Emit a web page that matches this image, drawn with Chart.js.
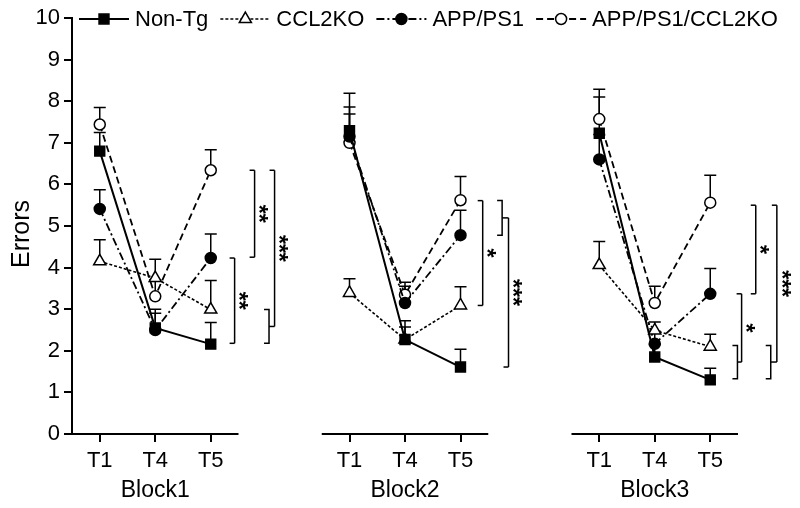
<!DOCTYPE html>
<html><head><meta charset="utf-8">
<script src="https://cdn.jsdelivr.net/npm/chart.js@4.4.0/dist/chart.umd.min.js"></script>
<style>html,body{margin:0;padding:0;background:#fff;}#wrap{width:800px;height:508px;position:relative;}</style>
</head><body><div id="wrap"><canvas id="c" width="800" height="508"></canvas></div>
<script>
// ---------- data ----------
const blocks = ['Block1', 'Block2', 'Block3'];
const trials = ['T1', 'T4', 'T5'];
const yTicks = [0, 1, 2, 3, 4, 5, 6, 7, 8, 9, 10];
const yTitle = 'Errors';
const seriesNames = ['Non-Tg', 'CCL2KO', 'APP/PS1', 'APP/PS1/CCL2KO'];
// means, ordered Block1 T1,T4,T5, Block2 T1,T4,T5, Block3 T1,T4,T5
const nonTgMean   = [6.80, 2.55, 2.16, 7.29, 2.27, 1.61, 7.23, 1.85, 1.30];
const ccl2koMean  = [4.15, 3.75, 2.99, 3.39, 2.27, 3.09, 4.06, 2.49, 2.10];
const appps1Mean  = [5.41, 2.50, 4.23, 7.15, 3.15, 4.78, 6.60, 2.17, 3.37];
const appCclMean  = [7.44, 3.31, 6.34, 7.00, 3.35, 5.62, 7.57, 3.15, 5.56];
// standard errors (upper bars)
const nonTgSem    = [0.45, 0.45, 0.52, 0.90, 0.45, 0.43, 0.87, 0.30, 0.28];
const ccl2koSem   = [0.52, 0.45, 0.70, 0.34, 0.30, 0.45, 0.57, 0.20, 0.30];
const appps1Sem   = [0.46, 0.40, 0.58, 0.71, 0.40, 0.60, 0.60, 0.30, 0.61];
const appCclSem   = [0.41, 0.40, 0.49, 0.69, 0.30, 0.57, 0.72, 0.40, 0.66];
// significance brackets: end = value or sub-bracket {hi, lo}
const sigBlock  = [0, 0, 0, 1, 1, 2, 2, 2];
const sigLabel  = ['**', '**', '***', '*', '***', '*', '*', '***'];
const sigTop    = [6.34, 4.23, 6.34, 5.61, {hi: 5.61, lo: 4.78}, 5.50, 3.37, 5.50];
const sigBottom = [4.25, 2.18, {hi: 2.99, lo: 2.18}, 3.09, 1.61, 3.37, {hi: 2.13, lo: 1.33}, {hi: 2.13, lo: 1.33}];

// ---------- layout / style (not data) ----------
const BLOCK_STEP = 4.5;
const sigX    = [0.79, 0.43, 1.15, 0.40, 0.865, 0.82, 0.565, 1.20];
const sigSubX = [null, null, 1.05, null, 0.75, null, 0.49, 1.09];
const FONT = "'Liberation Sans', Arial, Helvetica, sans-serif";

function pts(mean) {
  const out = [];
  for (let b = 0; b < blocks.length; b++) {
    for (let t = 0; t < trials.length; t++) out.push({x: b * BLOCK_STEP + t, y: mean[b * trials.length + t]});
    out.push({x: b * BLOCK_STEP + 2.5, y: null});
  }
  return out;
}
const means = [nonTgMean, ccl2koMean, appps1Mean, appCclMean];
const sems = [nonTgSem, ccl2koSem, appps1Sem, appCclSem];
const styles = [
  {dash: [], width: 2, point: 'rect', radius: 7, fill: '#000'},
  {dash: [3, 2], width: 1.6, point: 'triangle', radius: 7, fill: '#fff'},
  {dash: [8, 3, 2, 3], width: 1.8, point: 'circle', radius: 5.5, fill: '#000'},
  {dash: [7, 4], width: 1.8, point: 'circle', radius: 5.5, fill: '#fff'}
];

const datasets = seriesNames.map((name, i) => ({
  label: name,
  data: pts(means[i]),
  borderColor: '#000',
  borderWidth: styles[i].width,
  borderDash: styles[i].dash,
  backgroundColor: styles[i].fill,
  pointStyle: styles[i].point,
  pointRadius: styles[i].radius,
  pointBorderWidth: 1.5,
  pointBorderColor: '#000',
  pointBackgroundColor: styles[i].fill,
  tension: 0,
  spanGaps: false
}));

const tickPositions = [];
for (let b = 0; b < blocks.length; b++) for (let t = 0; t < trials.length; t++) tickPositions.push(b * BLOCK_STEP + t);

function drawMarker(ctx, style, x, y) {
  ctx.save();
  ctx.setLineDash([]);
  ctx.lineWidth = 1.5;
  ctx.strokeStyle = '#000';
  ctx.fillStyle = style.fill;
  ctx.beginPath();
  const r = style.radius;
  if (style.point === 'rect') {
    const s = r * Math.SQRT1_2;
    ctx.rect(x - s, y - s, 2 * s, 2 * s);
  } else if (style.point === 'triangle') {
    let a = 0;
    ctx.moveTo(x + Math.sin(a) * r, y - Math.cos(a) * r);
    a += 2 * Math.PI / 3;
    ctx.lineTo(x + Math.sin(a) * r, y - Math.cos(a) * r);
    a += 2 * Math.PI / 3;
    ctx.lineTo(x + Math.sin(a) * r, y - Math.cos(a) * r);
    ctx.closePath();
  } else {
    ctx.arc(x, y, r, 0, Math.PI * 2);
  }
  ctx.fill();
  ctx.stroke();
  ctx.restore();
}

const extras = {
  id: 'extras',
  beforeDatasetsDraw(chart) {
    const ctx = chart.ctx, xs = chart.scales.x, ys = chart.scales.y;
    ctx.save();
    ctx.strokeStyle = '#000';
    ctx.lineWidth = 1.5;
    ctx.setLineDash([]);
    means.forEach((m, i) => {
      m.forEach((v, k) => {
        const b = Math.floor(k / trials.length), t = k % trials.length;
        const x = xs.getPixelForValue(b * BLOCK_STEP + t);
        const y0 = ys.getPixelForValue(v), y1 = ys.getPixelForValue(v + sems[i][k]);
        ctx.beginPath();
        ctx.moveTo(x, y0); ctx.lineTo(x, y1);
        ctx.moveTo(x - 6, y1); ctx.lineTo(x + 6, y1);
        ctx.stroke();
      });
    });
    ctx.restore();
  },
  afterDraw(chart) {
    const ctx = chart.ctx, xs = chart.scales.x, ys = chart.scales.y;
    const base = chart.chartArea.bottom;
    ctx.save();
    ctx.strokeStyle = '#000';
    ctx.fillStyle = '#000';
    ctx.setLineDash([]);
    // y title
    ctx.save();
    ctx.translate(22, 234);
    ctx.rotate(-Math.PI / 2);
    ctx.font = '25px ' + FONT;
    ctx.textAlign = 'center'; ctx.textBaseline = 'middle';
    ctx.fillText(yTitle, 0, 0);
    ctx.restore();
    // x axis segments and block titles
    ctx.lineWidth = 2;
    blocks.forEach((name, b) => {
      const x0 = xs.getPixelForValue(b * BLOCK_STEP - 0.5), x1 = xs.getPixelForValue(b * BLOCK_STEP + 2.5);
      ctx.beginPath(); ctx.moveTo(x0, base); ctx.lineTo(x1, base); ctx.stroke();
      ctx.font = '23px ' + FONT;
      ctx.textAlign = 'center'; ctx.textBaseline = 'middle';
      ctx.fillText(name, xs.getPixelForValue(b * BLOCK_STEP + 1), 491);
    });
    // significance brackets
    ctx.lineWidth = 1.5;
    const arm = 5;
    sigLabel.forEach((lab, i) => {
      const b = sigBlock[i];
      const xv = xs.getPixelForValue(b * BLOCK_STEP + 2 + sigX[i]);
      const ends = [sigTop[i], sigBottom[i]].map(e => {
        if (typeof e === 'number') {
          const y = ys.getPixelForValue(e);
          ctx.beginPath(); ctx.moveTo(xv - arm, y); ctx.lineTo(xv, y); ctx.stroke();
          return y;
        }
        const sx = xs.getPixelForValue(b * BLOCK_STEP + 2 + sigSubX[i]);
        const yh = ys.getPixelForValue(e.hi), yl = ys.getPixelForValue(e.lo);
        ctx.beginPath();
        ctx.moveTo(sx - arm, yh); ctx.lineTo(sx, yh); ctx.lineTo(sx, yl); ctx.lineTo(sx - arm, yl);
        ctx.stroke();
        const ym = (yh + yl) / 2;
        ctx.beginPath(); ctx.moveTo(sx, ym); ctx.lineTo(xv, ym); ctx.stroke();
        return ym;
      });
      ctx.beginPath(); ctx.moveTo(xv, ends[0]); ctx.lineTo(xv, ends[1]); ctx.stroke();
      ctx.save();
      ctx.translate(xv + 3, (ends[0] + ends[1]) / 2);
      ctx.rotate(Math.PI / 2);
      ctx.font = 'bold 23px ' + FONT;
      ctx.textAlign = 'center'; ctx.textBaseline = 'middle';
      ctx.fillText(lab, 0, 0);
      ctx.restore();
    });
    // legend (sequential layout)
    const ly = 19;
    let lx = 79;
    ctx.font = '22px ' + FONT;
    seriesNames.forEach((name, i) => {
      const a = lx, c = lx + 50;
      ctx.save();
      ctx.lineWidth = styles[i].width;
      ctx.setLineDash(styles[i].dash);
      ctx.beginPath(); ctx.moveTo(a, ly); ctx.lineTo(c, ly); ctx.stroke();
      ctx.restore();
      drawMarker(ctx, styles[i], (a + c) / 2, ly);
      ctx.font = '22px ' + FONT;
      ctx.textAlign = 'left'; ctx.textBaseline = 'middle';
      ctx.fillText(name, c + 6, ly + 1);
      lx = c + 6 + ctx.measureText(name).width + 12;
    });
    ctx.restore();
  }
};

Chart.defaults.color = '#000';
Chart.defaults.font.family = FONT;

new Chart(document.getElementById('c'), {
  type: 'line',
  data: {datasets},
  options: {
    responsive: false,
    devicePixelRatio: 1,
    animation: false,
    layout: {padding: {top: 18, right: 62, bottom: 0, left: 0}},
    plugins: {legend: {display: false}, tooltip: {enabled: false}},
    scales: {
      x: {
        type: 'linear', min: -0.5, max: 11.5,
        afterBuildTicks: s => { s.ticks = tickPositions.map(v => ({value: v})); },
        afterFit: s => { s.height = 74; },
        ticks: {autoSkip: false, maxRotation: 0, padding: 6, font: {size: 22},
          callback: (v, idx) => trials[idx % trials.length]},
        grid: {drawOnChartArea: false, drawTicks: true, tickLength: 8, color: '#000', lineWidth: 2},
        border: {display: false}
      },
      y: {
        type: 'linear', min: 0, max: 10,
        afterBuildTicks: s => { s.ticks = yTicks.map(v => ({value: v})); },
        afterFit: s => { s.width = 72; },
        ticks: {padding: 4, font: {size: 22}},
        grid: {drawOnChartArea: false, drawTicks: true, tickLength: 8, color: '#000', lineWidth: 2},
        border: {display: true, color: '#000', width: 2},
        title: {display: false}
      }
    }
  },
  plugins: [extras]
});
</script>
</body></html>
